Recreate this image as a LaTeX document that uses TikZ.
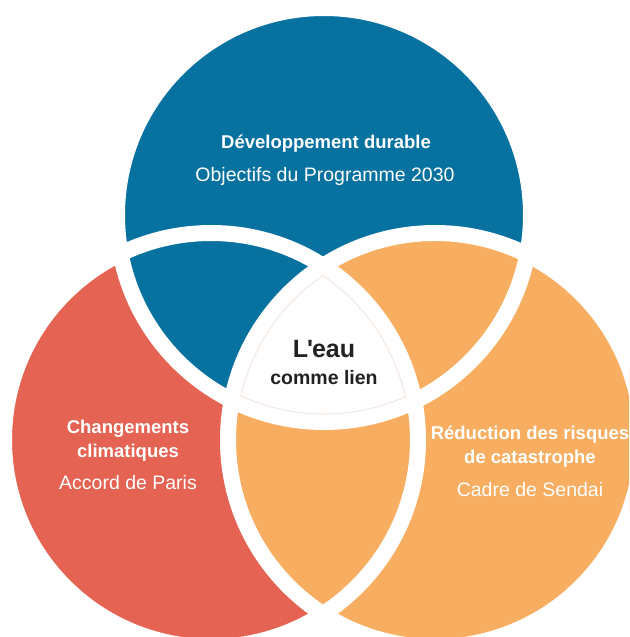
\documentclass[tikz,border=0pt]{standalone}
\usepackage{fontspec}
\setmainfont{Liberation Sans}
\definecolor{bluec}{HTML}{0771A0}
\definecolor{redc}{HTML}{E46352}
\definecolor{orangec}{HTML}{F8AE61}
\definecolor{faintc}{HTML}{F5EAE3}
\definecolor{darktext}{HTML}{222222}
\tikzset{
  titlelbl/.style={font=\fontsize{18.5}{22}\selectfont\bfseries, text=white, inner sep=0pt, anchor=base},
  sublbl/.style={font=\fontsize{19.5}{22}\selectfont, text=white, inner sep=0pt, anchor=base},
  centerlbl/.style={font=\fontsize{19.5}{22}\selectfont\bfseries, text=darktext, inner sep=0pt, anchor=base},
  bandline/.style={draw=white, line width=16pt},
}
\begin{document}
\begin{tikzpicture}[x=1pt,y=-1pt]
\useasboundingbox (0,0) rectangle (629,637);
\clip (0,0) rectangle (629,637);
\fill[white] (0,0) rectangle (629,637);
\coordinate (B) at (324,215);
\coordinate (R) at (211,440);
\coordinate (O) at (435,440);
% circles
\fill[redc] (R) circle[radius=207pt];
\fill[bluec] (B) circle[radius=207pt];
\fill[orangec] (O) circle[radius=207pt];
% triple intersection
\begin{scope}
  \clip (B) circle[radius=207pt];
  \clip (R) circle[radius=207pt];
  \fill[white] (O) circle[radius=207pt];
\end{scope}
% white bands
\draw[bandline] (R) circle[radius=207pt];
\draw[bandline] (B) circle[radius=207pt];
\draw[bandline] (O) circle[radius=207pt];
% faint outline of the centre
\begin{scope}
  \clip (B) circle[radius=199.6pt];
  \clip (R) circle[radius=199.6pt];
  \clip (O) circle[radius=199.6pt];
  \draw[faintc, line width=1.2pt] (B) circle[radius=199pt] (R) circle[radius=199pt] (O) circle[radius=199pt];
\end{scope}
% texts
\node[titlelbl] (t1) at (326,148) {Développement durable};
\node[sublbl] (s1) at (325,181) {Objectifs du Programme 2030};
\node[titlelbl] (t2a) at (128,433) {Changements};
\node[titlelbl] (t2b) at (128,457) {climatiques};
\node[sublbl] (s2) at (128,489) {Accord de Paris};
\node[titlelbl] (t3a) at (530,439) {Réduction des risques};
\node[titlelbl] (t3b) at (530,463) {de catastrophe};
\node[sublbl] (s3) at (530,496) {Cadre de Sendai};
\node[centerlbl, font=\fontsize{25}{28}\selectfont\bfseries] (c1) at (324,357) {L\kern-1pt\textquotesingle\kern-1pt eau};
\node[centerlbl] (c2) at (324,384) {comme lien};
\end{tikzpicture}
\end{document}
